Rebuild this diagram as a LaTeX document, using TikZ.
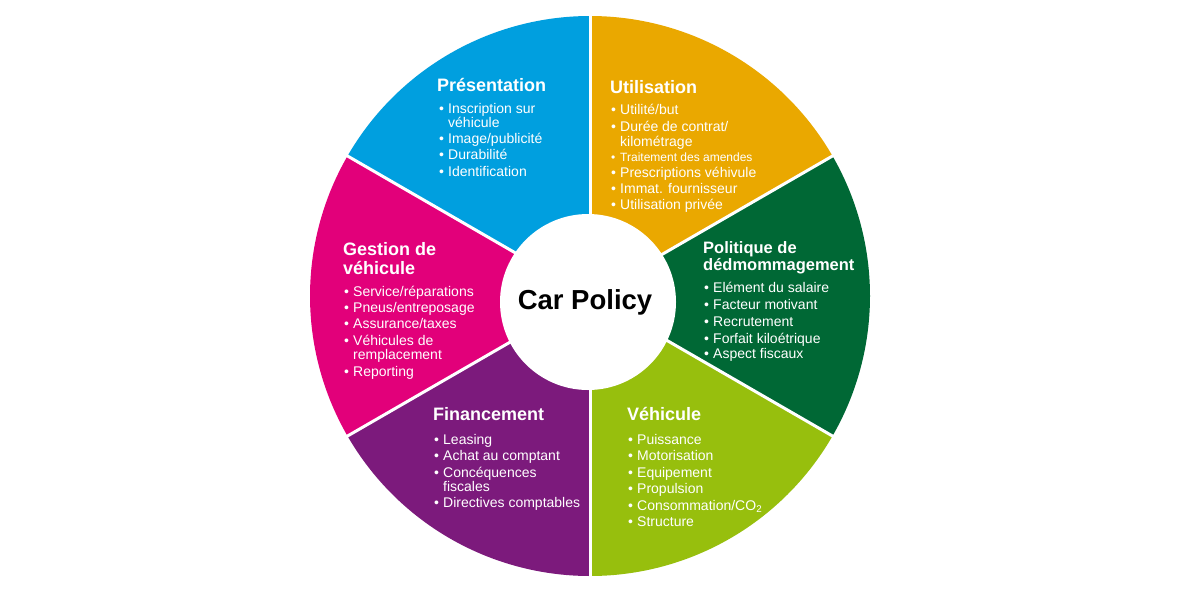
\documentclass[tikz,border=0pt]{standalone}
\usepackage{fontspec}
\setmainfont{Liberation Sans}
\definecolor{cBlue}{RGB}{0,159,223}
\definecolor{cOrange}{RGB}{234,168,0}
\definecolor{cDark}{RGB}{0,104,53}
\definecolor{cLime}{RGB}{151,191,13}
\definecolor{cPurple}{RGB}{124,26,124}
\definecolor{cPink}{RGB}{226,0,122}
\newcommand\bul{\makebox[9pt][l]{\textbullet}}
\tikzset{
  ttl/.style={font=\bfseries\fontsize{18}{20}\selectfont, text=white, anchor=base west, inner sep=0pt},
  ttlsmall/.style={font=\bfseries\fontsize{16.5}{18}\selectfont, text=white, anchor=base west, inner sep=0pt},
  itm/.style={font=\fontsize{14}{16}\selectfont, text=white, anchor=base west, inner sep=0pt},
  itmsmall/.style={font=\fontsize{12}{14}\selectfont, text=white, anchor=base west, inner sep=0pt},
  sep/.style={white, line width=3pt},
}
\begin{document}
\begin{tikzpicture}[x=1pt,y=-1pt]
\useasboundingbox (0,0) rectangle (1180,590);
\fill[white] (0,0) rectangle (1180,590);
\coordinate (C) at (590,296);
% sectors (angles mirrored because y points down)
\fill[cBlue]   (C) -- ++(-150:280) arc (-150:-90:280) -- cycle;
\fill[cOrange] (C) -- ++(-90:280) arc (-90:-30:280) -- cycle;
\fill[cDark]   (C) -- ++(-30:280) arc (-30:30:280) -- cycle;
\fill[cLime]   (C) -- ++(30:280) arc (30:90:280) -- cycle;
\fill[cPurple] (C) -- ++(90:280) arc (90:150:280) -- cycle;
\fill[cPink]   (C) -- ++(150:280) arc (150:210:280) -- cycle;
\foreach \a in {-90,-30,30,90,150,210}
  \draw[sep] (C) -- ++(\a:283);
\node[circle, fill=white, minimum size=176pt, inner sep=0pt] (center) at (588,302) {};
\node[font=\bfseries\fontsize{27.5}{30}\selectfont, inner sep=0pt] (cp) at (585,302) {Car Policy};

% Présentation
\node[ttl] (t1) at (437,91) {Présentation};
\node[itm] (p1) at (439,113) {\bul Inscription sur};
\node[itm] (p1b) at (448,127) {véhicule};
\node[itm] (p2) at (439,143) {\bul Image/publicité};
\node[itm] (p3) at (439,159) {\bul Durabilité};
\node[itm] (p4) at (439,176) {\bul Identification};

% Utilisation
\node[ttl] (t2) at (610,93) {Utilisation};
\node[itm] (u1) at (611,114) {\bul Utilité/but};
\node[itm] (u2) at (611,131) {\bul Durée de contrat/};
\node[itm] (u2b) at (620,146) {kilométrage};
\node[itmsmall] (u3) at (611,161) {\makebox[9pt][l]{\textbullet}Traitement des amendes};
\node[itm] (u4) at (611,177) {\bul Prescriptions véhivule};
\node[itm] (u5) at (611,193) {\bul Immat. fournisseur};
\node[itm] (u6) at (611,209) {\bul Utilisation privée};

% Politique de dédommagement
\node[ttlsmall] (t3) at (703,253) {Politique de};
\node[ttlsmall] (t3b) at (703,270) {dédmommagement};
\node[itm] (d1) at (704,292) {\bul Elément du salaire};
\node[itm] (d2) at (704,309) {\bul Facteur motivant};
\node[itm] (d3) at (704,326) {\bul Recrutement};
\node[itm] (d4) at (704,343) {\bul Forfait kiloétrique};
\node[itm] (d5) at (704,358) {\bul Aspect fiscaux};

% Gestion de véhicule
\node[ttl] (t4) at (343,255) {Gestion de};
\node[ttl] (t4b) at (343,274) {véhicule};
\node[itm] (g1) at (344,296) {\bul Service/réparations};
\node[itm] (g2) at (344,312) {\bul Pneus/entreposage};
\node[itm] (g3) at (344,328) {\bul Assurance/taxes};
\node[itm] (g4) at (344,345) {\bul Véhicules de};
\node[itm] (g4b) at (353,359) {remplacement};
\node[itm] (g5) at (344,376) {\bul Reporting};

% Financement
\node[ttl] (t5) at (433,420) {Financement};
\node[itm] (f1) at (434,444) {\bul Leasing};
\node[itm] (f2) at (434,460) {\bul Achat au comptant};
\node[itm] (f3) at (434,477) {\bul Concéquences};
\node[itm] (f3b) at (443,491) {fiscales};
\node[itm] (f4) at (434,507) {\bul Directives comptables};

% Véhicule
\node[ttl] (t6) at (627,420) {Véhicule};
\node[itm] (v1) at (628,444) {\bul Puissance};
\node[itm] (v2) at (628,460) {\bul Motorisation};
\node[itm] (v3) at (628,477) {\bul Equipement};
\node[itm] (v4) at (628,493) {\bul Propulsion};
\node[itm] (v5) at (628,510) {\bul Consommation/CO\textsubscript{2}};
\node[itm] (v6) at (628,526) {\bul Structure};
\end{tikzpicture}
\end{document}
